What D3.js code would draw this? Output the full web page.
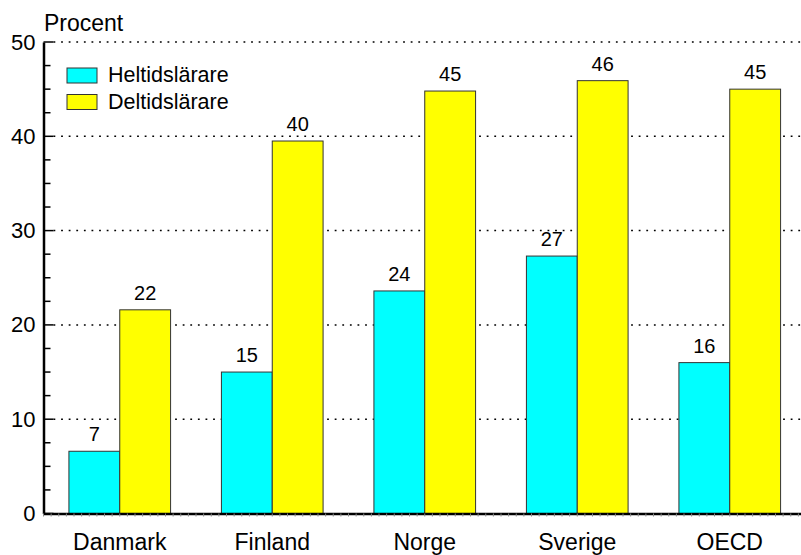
<!DOCTYPE html>
<html>
<head>
<meta charset="utf-8">
<script src="https://cdn.jsdelivr.net/npm/d3@7"></script>
<style>
  body { margin: 0; background: #fff; }
  text { font-family: Arial, "Liberation Sans", sans-serif; fill: #000; }
</style>
</head>
<body>
<div id="chart"></div>
<script>
var svgwidth = 801;
var svgheight = 555;

// data
var countries = ["Danmark", "Finland", "Norge", "Sverige", "OECD"];
var heltid = [6.6, 15.0, 23.6, 27.3, 16.0];
var deltid = [21.6, 39.5, 44.8, 45.9, 45.0];
var seriesNames = ["Heltidslärare", "Deltidslärare"];
var seriesColors = ["#00ffff", "#ffff00"];
var yTicks = [0, 10, 20, 30, 40, 50];

var plotLeft = 43.5, plotRight = 806, plotTop = 42, plotBottom = 513.5;

var svg = d3.select("#chart").append("svg")
    .attr("width", svgwidth).attr("height", svgheight);

var y = d3.scaleLinear().domain([0, 50]).range([plotBottom, plotTop]);
var x = d3.scaleBand().domain(countries).range([plotLeft, plotRight])
    .paddingInner(1 / 3).paddingOuter(1 / 6);
var xs = d3.scaleBand().domain(seriesNames).range([0, x.bandwidth()]);

// dotted grid
svg.append("g").selectAll("line")
    .data(yTicks.filter(d => d > 0))
    .enter().append("line")
    .attr("x1", plotLeft + 10).attr("x2", svgwidth)
    .attr("y1", d => y(d)).attr("y2", d => y(d))
    .attr("stroke", "#000").attr("stroke-width", 1.5)
    .attr("stroke-dasharray", "1.8,5.8");

// bars
var rows = countries.map((c, i) => ({ country: c, values: [heltid[i], deltid[i]] }));
var groups = svg.append("g").selectAll("g")
    .data(rows)
    .enter().append("g")
    .attr("transform", d => `translate(${x(d.country)},0)`);

var cells = groups.selectAll("g")
    .data(d => d.values.map((v, j) => ({ name: seriesNames[j], value: v, color: seriesColors[j] })))
    .enter().append("g");

cells.append("rect")
    .attr("x", d => xs(d.name))
    .attr("y", d => y(d.value))
    .attr("width", xs.bandwidth())
    .attr("height", d => plotBottom - y(d.value))
    .attr("fill", d => d.color)
    .attr("stroke", "#333").attr("stroke-width", 1);

cells.append("text")
    .attr("x", d => xs(d.name) + xs.bandwidth() / 2)
    .attr("y", d => y(d.value) - 10)
    .attr("text-anchor", "middle")
    .style("font-size", "20px")
    .text(d => Math.round(d.value));

// y axis
var leftAxis = d3.axisLeft(y).tickValues(yTicks).tickSize(0).tickPadding(8).tickFormat(d3.format("d"));
var yAxis = svg.append("g").attr("transform", `translate(${plotLeft},0)`).call(leftAxis);
yAxis.select(".domain").attr("stroke", "#000").attr("stroke-width", 2.5);
yAxis.selectAll("text").style("font-size", "22px").style("font-family", "Arial, 'Liberation Sans', sans-serif");

// major and minor ticks pointing into the plot
var minor = d3.range(0, 50.01, 2.5);
svg.append("g").selectAll("line")
    .data(minor)
    .enter().append("line")
    .attr("x1", plotLeft).attr("x2", d => (d % 10 === 0 ? plotLeft + 10 : plotLeft + 7))
    .attr("y1", d => y(d)).attr("y2", d => y(d))
    .attr("stroke", "#000").attr("stroke-width", 1.5);

// x axis
var bottomAxis = d3.axisBottom(x).tickSize(0).tickPadding(20);
var xAxis = svg.append("g").attr("transform", `translate(0,${plotBottom})`).call(bottomAxis);
xAxis.select(".domain").attr("stroke", "#000").attr("stroke-width", 2.5);
xAxis.selectAll("text").style("font-size", "23px").style("font-family", "Arial, 'Liberation Sans', sans-serif");

// tiny ticks under the bottom axis
svg.append("g").selectAll("line")
    .data(d3.range(plotLeft, svgwidth, x.step() / 20))
    .enter().append("line")
    .attr("x1", d => d).attr("x2", d => d)
    .attr("y1", plotBottom).attr("y2", plotBottom + 3)
    .attr("stroke", "#888").attr("stroke-width", 1);

// axis title
svg.append("text").attr("x", 44).attr("y", 31)
    .style("font-size", "23px").text("Procent");

// legend
var legend = svg.append("g").selectAll("g")
    .data(seriesNames)
    .enter().append("g")
    .attr("transform", (d, i) => `translate(67,${68 + i * 26.5})`);
legend.append("rect")
    .attr("width", 30).attr("height", 15)
    .attr("fill", (d, i) => seriesColors[i])
    .attr("stroke", "#333").attr("stroke-width", 1);
legend.append("text")
    .attr("x", 41).attr("y", 14)
    .style("font-size", "21.5px")
    .text(d => d);
</script>
</body>
</html>
